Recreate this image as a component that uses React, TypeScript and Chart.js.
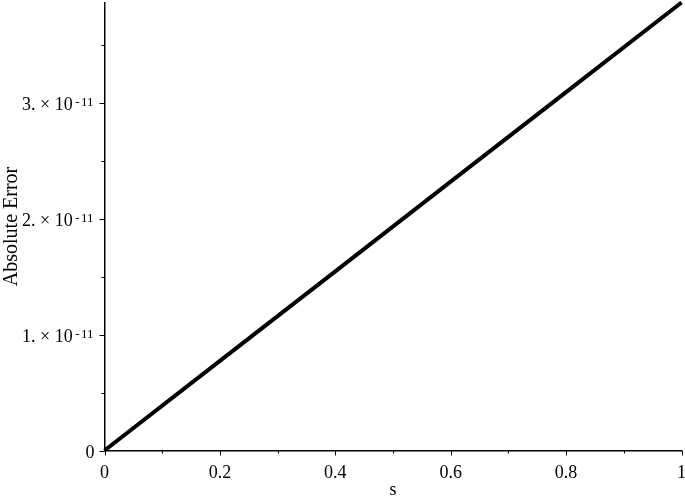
import React, { useEffect, useRef } from "react";
import { Chart, registerables } from "chart.js";

Chart.register(...registerables);

const sValues = [0, 0.2, 0.4, 0.6, 0.8, 1];
const errValues = [0, 0.774e-11, 1.548e-11, 2.322e-11, 3.096e-11, 3.87e-11];
const xMajorTicks = [0, 0.2, 0.4, 0.6, 0.8, 1];
const xMinorTicks = [0.1, 0.3, 0.5, 0.7, 0.9];
const xTickLabels = ["0", "0.2", "0.4", "0.6", "0.8", "1"];
const yMajorTicks = [0, 1e-11, 2e-11, 3e-11];
const yMinorTicks = [0.5e-11, 1.5e-11, 2.5e-11, 3.5e-11];
const yTickMantissas = ["0", "1.", "2.", "3."];
const yTickExpSign = "-";
const yTickExpDigits = "11";
const xTitle = "s";
const yTitle = "Absolute Error";

const FONT = '"Liberation Serif", "Times New Roman", serif';

const axisDecor = {
  id: "axisDecor",
  afterDraw(chart: any) {
    const ctx = chart.ctx;
    const xs = chart.scales.x;
    const ys = chart.scales.y;
    const area = chart.chartArea;
    ctx.save();
    ctx.strokeStyle = "#000";
    ctx.fillStyle = "#000";
    ctx.lineWidth = 1;
    // x ticks
    const xb = area.bottom;
    xMajorTicks.forEach((v) => {
      const px = Math.round(xs.getPixelForValue(v)) + 0.5;
      ctx.beginPath();
      ctx.moveTo(px, xb);
      ctx.lineTo(px, xb + 5);
      ctx.stroke();
    });
    xMinorTicks.forEach((v) => {
      const px = Math.round(xs.getPixelForValue(v)) + 0.5;
      ctx.beginPath();
      ctx.moveTo(px, xb);
      ctx.lineTo(px, xb + 3);
      ctx.stroke();
    });
    // y ticks
    const yl = area.left;
    yMajorTicks.forEach((v) => {
      const py = Math.round(ys.getPixelForValue(v)) + 0.5;
      ctx.beginPath();
      ctx.moveTo(yl, py);
      ctx.lineTo(yl - 5, py);
      ctx.stroke();
    });
    yMinorTicks.forEach((v) => {
      const py = ys.getPixelForValue(v);
      if (py < area.top) return;
      const p = Math.round(py) + 0.5;
      ctx.beginPath();
      ctx.moveTo(yl, p);
      ctx.lineTo(yl - 3, p);
      ctx.stroke();
    });
    // x labels
    ctx.font = "18px " + FONT;
    ctx.textAlign = "center";
    ctx.textBaseline = "alphabetic";
    xMajorTicks.forEach((v, i) => {
      ctx.fillText(xTickLabels[i], xs.getPixelForValue(v), xb + 27);
    });
    // y labels
    const rightX = yl - 11;
    yMajorTicks.forEach((v, i) => {
      const py = ys.getPixelForValue(v);
      const base = py + 7;
      ctx.textAlign = "right";
      if (i === 0) {
        ctx.font = "18px " + FONT;
        ctx.fillText(yTickMantissas[i], rightX + 1, base);
        return;
      }
      ctx.font = "13px " + FONT;
      ctx.fillText(yTickExpDigits, rightX, base - 4);
      const dW = ctx.measureText(yTickExpDigits).width;
      ctx.fillText(yTickExpSign, rightX - dW - 1.5, base - 4);
      const sW = ctx.measureText(yTickExpSign).width;
      ctx.font = "18px " + FONT;
      ctx.fillText(yTickMantissas[i] + " \u00d7 10", rightX - dW - 1.5 - sW - 2.5, base);
    });
    // titles
    ctx.font = "18px " + FONT;
    ctx.textAlign = "center";
    ctx.fillText(xTitle, (area.left + area.right) / 2, 495);
    ctx.save();
    ctx.translate(17, (area.top + area.bottom) / 2);
    ctx.rotate(-Math.PI / 2);
    ctx.font = "20px " + FONT;
    ctx.fillText(yTitle, 0, 0);
    ctx.restore();
    ctx.restore();
  },
};

export default function App() {
  const ref = useRef<HTMLCanvasElement | null>(null);
  useEffect(() => {
    document.body.style.margin = "0";
    const canvas = ref.current!;
    const chart = new Chart(canvas, {
      type: "line",
      data: {
        datasets: [
          {
            data: sValues.map((s, i) => ({ x: s, y: errValues[i] })),
            borderColor: "#000",
            borderWidth: 4,
            pointRadius: 0,
            fill: false,
            tension: 0,
            clip: 4,
          } as any,
        ],
      },
      options: {
        animation: false,
        responsive: false,
        maintainAspectRatio: false,
        devicePixelRatio: 1,
        layout: { padding: { left: 0, right: 3.5, top: 2.5, bottom: 0 } },
        plugins: { legend: { display: false }, tooltip: { enabled: false } },
        scales: {
          x: {
            type: "linear",
            min: 0,
            max: 1,
            grid: { display: false },
            border: { display: true, color: "#000", width: 1.5 },
            ticks: { display: false },
            afterFit: (s: any) => {
              s.height = 46.5;
            },
          },
          y: {
            type: "linear",
            min: 0,
            max: 3.87e-11,
            grid: { display: false },
            border: { display: true, color: "#000", width: 1.5 },
            ticks: { display: false },
            afterFit: (s: any) => {
              s.width = 104.5;
            },
          },
        },
      },
      plugins: [axisDecor],
    });
    return () => chart.destroy();
  }, []);
  return (
    <canvas ref={ref} width={685} height={497} style={{ display: "block" }} />
  );
}
